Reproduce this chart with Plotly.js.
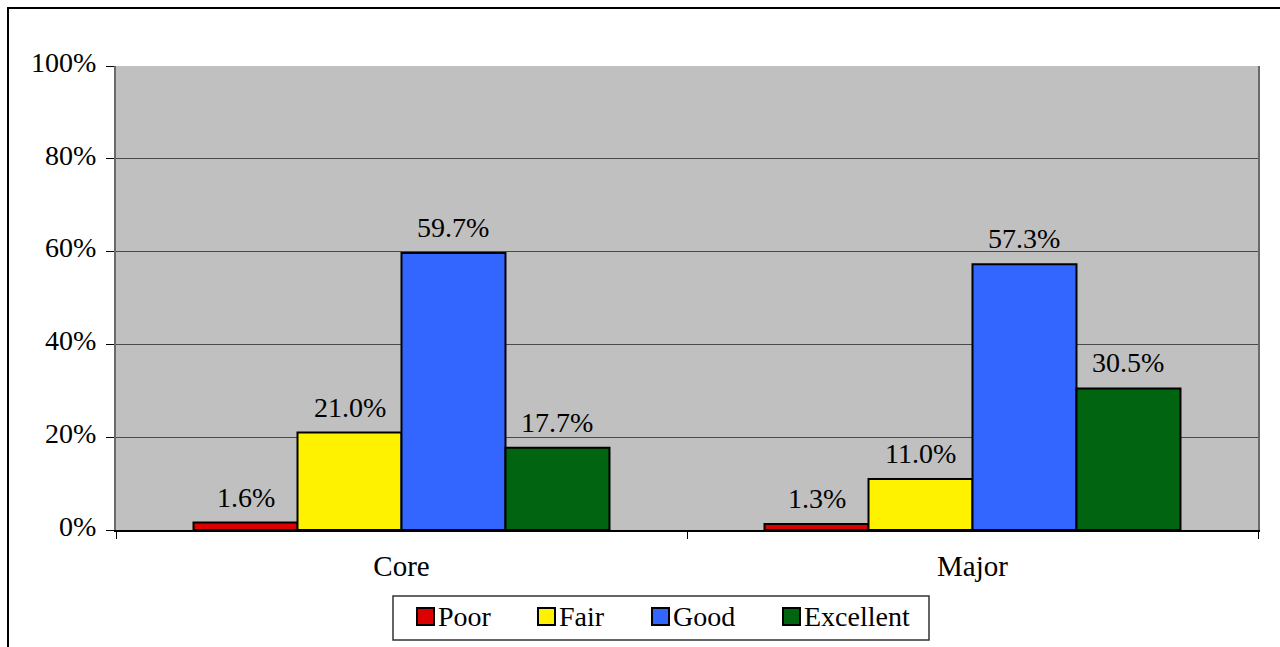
<!DOCTYPE html>
<html>
<head>
<meta charset="utf-8">
<script src="https://cdn.plot.ly/plotly-3.0.1.min.js"></script>
<style>
  html, body { margin: 0; padding: 0; background: #ffffff; }
  #frame { position: absolute; left: 7px; top: 7px; width: 1290px; height: 660px; border-left: 2px solid #000; border-top: 2px solid #000; box-sizing: border-box; pointer-events: none; z-index: 5; }
  #chart { width: 1280px; height: 647px; }
</style>
</head>
<body>
<div id="frame"></div>
<div id="chart"></div>
<script>
const categories = ["Core", "Major"];
const seriesNames = ["Poor", "Fair", "Good", "Excellent"];
const poor = [1.6, 1.3];
const fair = [21.0, 11.0];
const good = [59.7, 57.3];
const excellent = [17.7, 30.5];
const yTickVals = [0, 20, 40, 60, 80, 100];
const yTickText = ["0%", "20%", "40%", "60%", "80%", "100%"];

const seriesValues = [poor, fair, good, excellent];
const colors = ["#dd0000", "#fff200", "#3366ff", "#006411"];

const W = 1280, H = 647;
const margin = {l: 116, r: 22, t: 66, b: 117};
const bargap = 0.2715;
const plotW = W - margin.l - margin.r;
const plotH = H - margin.t - margin.b;
const catW = plotW / categories.length;
const barW = catW * (1 - bargap) / seriesNames.length;

const font = "Liberation Serif";

// pixel -> paper helpers (used only for the legend box)
const px = v => (v - margin.l) / plotW;
const py = v => (H - margin.b - v) / plotH;

const traces = seriesNames.map((name, i) => ({
  type: "bar",
  name: name,
  x: categories,
  y: seriesValues[i],
  marker: {color: colors[i], line: {color: "#000000", width: 2}},
  hoverinfo: "skip",
  showlegend: false
}));

const annotations = [];
seriesValues.forEach((vals, i) => {
  vals.forEach((v, j) => {
    annotations.push({
      x: categories[j], y: v, xref: "x", yref: "y",
      text: v.toFixed(1) + "%",
      showarrow: false,
      xanchor: "center", yanchor: "bottom",
      xshift: (i - (seriesNames.length - 1) / 2) * barW,
      yshift: 8,
      font: {family: font, size: 28, color: "#000"}
    });
  });
});

// legend (drawn as shapes + text)
const legendBox = {x0: 393, x1: 929, y0: 596, y1: 640};
const legendIconX = [417, 538, 652, 783];
const iconSize = 17;
const iconTop = 608;
const shapes = [{
  type: "rect", xref: "paper", yref: "paper",
  x0: px(legendBox.x0), x1: px(legendBox.x1), y0: py(legendBox.y1), y1: py(legendBox.y0),
  line: {color: "#333333", width: 1.5}, fillcolor: "#ffffff", layer: "above"
}];
seriesNames.forEach((name, i) => {
  shapes.push({
    type: "rect", xref: "paper", yref: "paper",
    x0: px(legendIconX[i]), x1: px(legendIconX[i] + iconSize),
    y0: py(iconTop + iconSize), y1: py(iconTop),
    line: {color: "#000000", width: 2}, fillcolor: colors[i], layer: "above"
  });
  annotations.push({
    xref: "paper", yref: "paper",
    x: px(legendIconX[i] + iconSize + 2), y: py(616),
    xanchor: "left", yanchor: "middle",
    text: name, showarrow: false,
    font: {family: font, size: 28, color: "#000"}
  });
});

const layout = {
  width: W, height: H,
  margin: margin,
  paper_bgcolor: "#ffffff",
  plot_bgcolor: "#c0c0c0",
  font: {family: font, size: 28, color: "#000"},
  barmode: "group",
  bargap: bargap,
  bargroupgap: 0,
  showlegend: false,
  xaxis: {
    type: "category",
    tickson: "boundaries",
    ticks: "outside", ticklen: 7, tickcolor: "#000", tickwidth: 1,
    showline: true, linecolor: "#000", linewidth: 2,
    showgrid: false,
    tickfont: {family: font, size: 29, color: "#000"},
    ticklabelstandoff: 9,
    fixedrange: true,
    automargin: false
  },
  yaxis: {
    range: [0, 100],
    tickvals: yTickVals, ticktext: yTickText,
    ticks: "outside", ticklen: 8, tickcolor: "#000", tickwidth: 1,
    showline: true, linecolor: "#6a6a6a", linewidth: 2, mirror: true,
    showgrid: true, gridcolor: "#4a4a4a", gridwidth: 1,
    zeroline: false,
    tickfont: {family: font, size: 28, color: "#000"},
    ticklabelstandoff: 4,
    ticklabelshift: -4,
    fixedrange: true,
    automargin: false
  },
  shapes: shapes,
  annotations: annotations
};

Plotly.newPlot("chart", traces, layout, {displayModeBar: false, staticPlot: true});
</script>
</body>
</html>
